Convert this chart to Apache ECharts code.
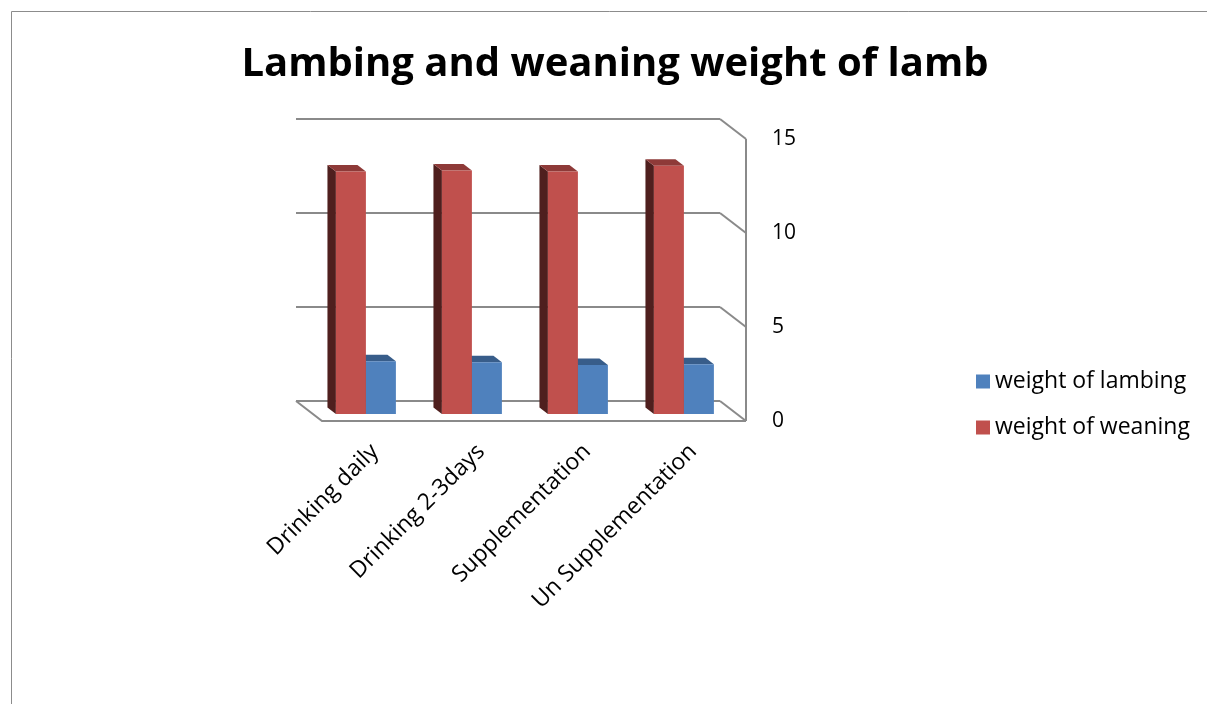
<!DOCTYPE html>
<html><head><meta charset="utf-8">
<script src="https://cdn.jsdelivr.net/npm/echarts@6/dist/echarts.min.js"></script>
<style>html,body{margin:0;padding:0;background:#fff}#c{width:1207px;height:704px}</style>
</head><body><div id="c"></div>
<script>
const categories = ['Drinking daily', 'Drinking 2-3days', 'Supplementation', 'Un Supplementation'];
const lambingWeight = [2.8, 2.75, 2.6, 2.65];
const weaningWeight = [12.9, 12.95, 12.9, 13.2];
const yTicks = [0, 5, 10, 15];
const seriesNames = ['weight of lambing', 'weight of weaning'];

const FONT = '"Open Sans", "Liberation Sans", sans-serif';
const DX = 26, DY = 20;           // floor depth offset
const BACK = 0.325, FRONT = 0.65; // bar depth position within floor
const colors = {
  lambing: { front: '#4F81BD', top: '#385D8A', side: '#2C4A6E' },
  weaning: { front: '#C0504D', top: '#8E3A38', side: '#4F1F1E' }
};

function barRenderer(side, col) {
  return function (params, api) {
    const cat = api.value(0), v = api.value(1);
    const base = api.coord([cat, 0]);
    const top = api.coord([cat, v]);
    const band = api.size([1, 0])[0];
    const w = band * 0.283;
    const x0 = side === 'left' ? base[0] - w : base[0];
    const x1 = x0 + w;
    const bx = DX * BACK, by = DY * BACK, fx = DX * FRONT, fy = DY * FRONT;
    return {
      type: 'group',
      children: [
        { type: 'polygon', shape: { points: [[x0 + bx, top[1] + by], [x0 + fx, top[1] + fy], [x0 + fx, base[1] + fy], [x0 + bx, base[1] + by]] }, style: { fill: col.side } },
        { type: 'polygon', shape: { points: [[x0 + bx, top[1] + by], [x1 + bx, top[1] + by], [x1 + fx, top[1] + fy], [x0 + fx, top[1] + fy]] }, style: { fill: col.top } },
        { type: 'rect', shape: { x: x0 + fx, y: top[1] + fy, width: w, height: base[1] - top[1] }, style: { fill: col.front } }
      ]
    };
  };
}

function wallRenderer(params, api) {
  const v = api.value(0);
  const cs = params.coordSys;
  const L = cs.x, R = cs.x + cs.width;
  const y = api.coord([0, v])[1];
  const st = { stroke: '#8a8a8a', lineWidth: 2, fill: null };
  const children = [
    { type: 'line', shape: { x1: R, y1: y, x2: R + DX, y2: y + DY }, style: st }
  ];
  if (v === yTicks[0]) {
    const yTop = api.coord([0, yTicks[yTicks.length - 1]])[1];
    children.push({ type: 'polyline', shape: { points: [[L, y], [L + DX, y + DY], [R + DX, y + DY]] }, style: st });
    children.push({ type: 'line', shape: { x1: R + DX, y1: yTop + DY, x2: R + DX, y2: y + DY }, style: st });
  }
  return { type: 'group', children };
}

const chart = echarts.init(document.getElementById('c'), null, { renderer: 'canvas' });
chart.setOption({
  animation: false,
  backgroundColor: '#ffffff',
  title: {
    text: 'Lambing and weaning weight of lamb',
    left: 610, top: 40, textAlign: 'center',
    textStyle: { fontFamily: FONT, fontWeight: 'bold', fontSize: 40, color: '#000' }
  },
  graphic: [{ type: 'rect', shape: { x: 11.5, y: 11.5, width: 1400, height: 900 }, style: { fill: null, stroke: '#8c8c8c', lineWidth: 1 }, z: 0, silent: true }],
  legend: {
    orient: 'vertical', left: 971, top: 365, itemWidth: 14, itemHeight: 14, itemGap: 23,
    icon: 'rect', data: seriesNames,
    textStyle: { fontFamily: FONT, fontSize: 23, color: '#000', padding: [0, 0, 0, 0] }
  },
  grid: [
    { left: 296, top: 119, width: 424, height: 282 },
    { left: 322, top: 139, width: 424, height: 282 }
  ],
  xAxis: [
    { type: 'category', data: categories, gridIndex: 0, show: false },
    { type: 'category', data: categories, gridIndex: 1, axisLine: { show: false }, axisTick: { show: false },
      axisLabel: { rotate: 45, fontFamily: FONT, fontSize: 23, color: '#000', margin: 27, interval: 0, padding: [31, 0, 0, 0] } }
  ],
  yAxis: [
    { type: 'value', gridIndex: 0, min: 0, max: 15, interval: 5, axisLabel: { show: false }, axisLine: { show: false }, axisTick: { show: false },
      splitLine: { show: true, lineStyle: { color: '#8a8a8a', width: 2 } } },
    { type: 'value', gridIndex: 1, position: 'right', min: 0, max: 15, interval: 5, axisLine: { show: false }, axisTick: { show: false },
      splitLine: { show: false }, axisLabel: { margin: 26, fontFamily: FONT, fontSize: 21, color: '#000', padding: [4, 0, 0, 0] } }
  ],
  series: [
    { type: 'custom', name: 'walls', xAxisIndex: 0, yAxisIndex: 0, data: yTicks.map(v => [v]), renderItem: wallRenderer, z: 1, silent: true, encode: { y: 0 } },
    { type: 'custom', name: seriesNames[0], xAxisIndex: 0, yAxisIndex: 0, itemStyle: { color: colors.lambing.front },
      data: lambingWeight.map((v, i) => [i, v]), encode: { x: 0, y: 1 }, renderItem: barRenderer('right', colors.lambing), z: 2 },
    { type: 'custom', name: seriesNames[1], xAxisIndex: 0, yAxisIndex: 0, itemStyle: { color: colors.weaning.front },
      data: weaningWeight.map((v, i) => [i, v]), encode: { x: 0, y: 1 }, renderItem: barRenderer('left', colors.weaning), z: 2 }
  ]
});
</script></body></html>
